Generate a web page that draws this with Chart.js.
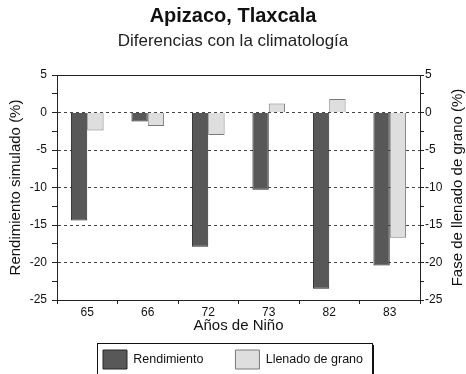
<!DOCTYPE html>
<html>
<head>
<meta charset="utf-8">
<script src="https://cdn.jsdelivr.net/npm/chart.js@4"></script>
<style>
  html, body { margin: 0; padding: 0; background: #fff; }
  #wrap { width: 466px; height: 374px; }
</style>
</head>
<body>
<div id="wrap"><canvas id="chart" width="466" height="374"></canvas></div>
<script>
const years = ['65', '66', '72', '73', '82', '83'];
const rendimiento = [-14.4, -1.2, -17.9, -10.3, -23.5, -20.4];
const llenado = [-2.4, -1.8, -3.0, 1.2, 1.8, -16.7];
const yMin = -25, yMax = 5, yStep = 2.5;

const FONT = 'Arial, "Liberation Sans", sans-serif';

// frame top line, axis titles that chart.js can't place like the original, legend box
const extras = {
  id: 'extras',
  afterDraw(chart) {
    const ctx = chart.ctx;
    const a = chart.chartArea;
    ctx.save();
    ctx.strokeStyle = '#222';
    ctx.lineWidth = 1;
    ctx.beginPath();
    ctx.moveTo(a.left, a.top + 0.5);
    ctx.lineTo(a.right, a.top + 0.5);
    ctx.stroke();

    ctx.fillStyle = '#111';
    ctx.font = '15px ' + FONT;
    ctx.textAlign = 'center';
    ctx.textBaseline = 'middle';
    ctx.fillText('Años de Niño', (a.left + a.right) / 2, 326);

    ctx.translate(458, (a.top + a.bottom) / 2);
    ctx.rotate(-Math.PI / 2);
    ctx.fillText('Fase de llenado de grano (%)', 0, 0);
    ctx.restore();

    const boxes = chart.legend.legendHitBoxes;
    if (boxes && boxes.length) {
      const first = boxes[0], last = boxes[boxes.length - 1];
      const l = first.left - 6, r = last.left + last.width + 9;
      const t = first.top - 7;
      ctx.save();
      ctx.strokeStyle = '#111';
      ctx.lineWidth = 1;
      ctx.strokeRect(l + 0.5, t + 0.5, r - l, 60);
      ctx.fillStyle = '#111';
      ctx.fillRect(r, t + 2, 2, 60);
      ctx.restore();
    }
  }
};

const tickLabel = v => (v % 5 === 0 ? String(v) : '');
const gridColor = c => {
  const v = c.tick && c.tick.value;
  if (v === undefined || v % 5 !== 0 || v === yMin || v === yMax) return 'rgba(0,0,0,0)';
  return '#444';
};
const legendPad = 32;

new Chart(document.getElementById('chart'), {
  type: 'bar',
  data: {
    labels: years,
    datasets: [
      {
        label: 'Rendimiento',
        data: rendimiento,
        backgroundColor: '#585858',
        borderColor: '#262626',
        borderWidth: 1,
        yAxisID: 'y'
      },
      {
        label: 'Llenado de grano',
        data: llenado,
        backgroundColor: '#dedede',
        borderColor: '#7a7a7a',
        borderWidth: 1,
        yAxisID: 'y'
      }
    ]
  },
  options: {
    responsive: false,
    animation: false,
    devicePixelRatio: 1,
    layout: { padding: { left: 0, right: 0, top: 0, bottom: -5 } },
    datasets: {
      bar: { categoryPercentage: 0.54, barPercentage: 1.0 }
    },
    plugins: {
      title: {
        display: true,
        text: 'Apizaco, Tlaxcala',
        color: '#111',
        font: { family: FONT, size: 20, weight: 'bold' },
        padding: { top: 4.5, bottom: 0 }
      },
      subtitle: {
        display: true,
        text: 'Diferencias con la climatología',
        color: '#222',
        font: { family: FONT, size: 17 },
        padding: { top: 2.3, bottom: 23.8 }
      },
      legend: {
        position: 'bottom',
        labels: {
          boxWidth: 24,
          boxHeight: 19,
          padding: legendPad,
          color: '#111',
          font: { family: FONT, size: 12.5 }
        }
      },
      tooltip: { enabled: false }
    },
    scales: {
      x: {
        afterFit: s => { s.height = 50 - legendPad; },
        grid: {
          offset: true,
          drawOnChartArea: false,
          tickLength: 4,
          tickColor: '#222'
        },
        border: { color: '#222' },
        ticks: { color: '#111', padding: 1, font: { family: FONT, size: 12 } }
      },
      y: {
        position: 'left',
        min: yMin,
        max: yMax,
        afterFit: s => { s.width = 57; },
        afterBuildTicks: s => {
          s.ticks = [];
          for (let v = yMin; v <= yMax; v += yStep) s.ticks.push({ value: v });
        },
        grid: {
          color: gridColor,
          tickColor: '#222',
          tickLength: 5,
          tickBorderDash: []
        },
        border: { color: '#222', dash: [3, 3] },
        ticks: {
          callback: tickLabel,
          color: '#111',
          padding: 5,
          autoSkip: false,
          font: { family: FONT, size: 12 }
        },
        title: {
          display: true,
          text: 'Rendimiento simulado (%)',
          color: '#111',
          font: { family: FONT, size: 15 },
          padding: { top: 7, bottom: 0 }
        }
      },
      y1: {
        position: 'right',
        min: yMin,
        max: yMax,
        afterFit: s => { s.width = 46; },
        afterBuildTicks: s => {
          s.ticks = [];
          for (let v = yMin; v <= yMax; v += yStep) s.ticks.push({ value: v });
        },
        grid: {
          drawOnChartArea: false,
          tickColor: '#222',
          tickLength: 4,
          tickBorderDash: []
        },
        border: { color: '#222' },
        ticks: {
          callback: tickLabel,
          color: '#111',
          padding: 1,
          autoSkip: false,
          font: { family: FONT, size: 12 }
        }
      }
    }
  },
  plugins: [extras]
});
</script>
</body>
</html>
